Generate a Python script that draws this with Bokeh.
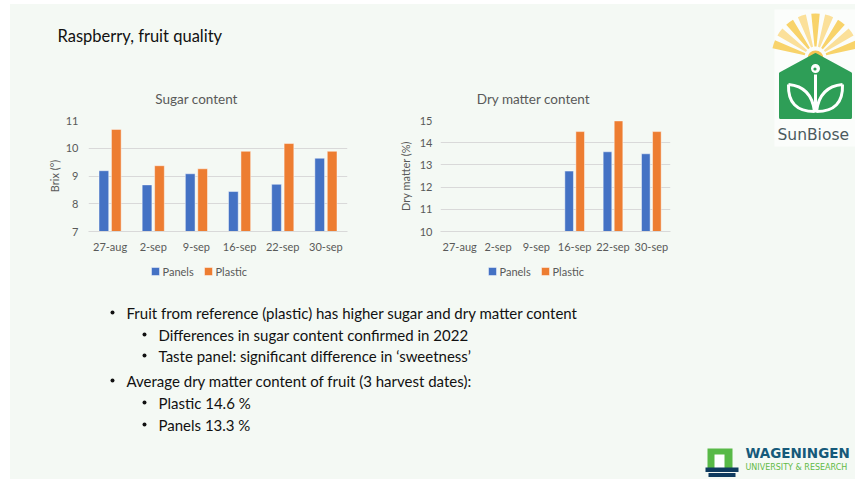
import numpy as np
from bokeh.plotting import figure
from bokeh.layouts import row, column
from bokeh.models import Range1d, FactorRange, FixedTicker, ColumnDataSource, Spacer
from bokeh.transform import dodge
from bokeh.core.properties import value
from bokeh.embed import file_html
from bokeh.resources import INLINE

# ---------------- data ----------------
dates = ["27-aug", "2-sep", "9-sep", "16-sep", "22-sep", "30-sep"]
series = ["Panels", "Plastic"]
sugar_panels = [9.19, 8.68, 9.08, 8.44, 8.70, 9.64]
sugar_plastic = [10.68, 9.37, 9.26, 9.89, 10.17, 9.89]
dry_panels = [np.nan, np.nan, np.nan, 12.72, 13.59, 13.50]
dry_plastic = [np.nan, np.nan, np.nan, 14.50, 14.98, 14.50]
sugar_ticks = [7, 8, 9, 10, 11]
dry_ticks = [10, 11, 12, 13, 14, 15]

slide_title = "Raspberry, fruit quality"
bullets = [
    (0, "Fruit from reference (plastic) has higher sugar and dry matter content"),
    (1, "Differences in sugar content confirmed in 2022"),
    (1, "Taste panel: significant difference in \u2018sweetness\u2019"),
    (0, "Average dry matter content of fruit (3 harvest dates):"),
    (1, "Plastic 14.6 %"),
    (1, "Panels 13.3 %"),
]

# ---------------- style ----------------
SLIDE = "#F4F9F4"
BLUE = "#4472C4"
ORANGE = "#ED7D31"
GRID = "#D9D9D9"
TXT = "#595959"
FONT = "Lato"
BAR_W = 0.225
BAR_OFF = 0.144


def tile(w, h, bl=0, br=0):
    # frame spans [bl, w-br]; x data units equal local pixels
    p = figure(width=w, height=h, x_range=Range1d(bl, w - br), y_range=Range1d(0, h),
               output_backend="svg", toolbar_location=None,
               x_axis_type=None, y_axis_type=None, min_border=0,
               min_border_left=bl, min_border_right=br,
               background_fill_color=SLIDE, border_fill_color=SLIDE,
               outline_line_color=None)
    return p


def bar_chart(title, ylab, pan, pla, ticks, w, ox, bl, br, title_cx, leg_x,
              lab_standoff, tick_standoff):
    # title tile: page y 83..115
    tt = tile(w, 32, bl, br)
    tt.text(x=[title_cx - ox], y=[32 - (98 - 83)], text=[title],
            text_align="center", text_baseline="middle",
            text_font=value(FONT), text_font_size="13.5px", text_color=TXT)

    # chart: page y 115..257, frame 120..231
    src = ColumnDataSource(dict(date=dates,
                                Panels=np.array(pan, dtype=float),
                                Plastic=np.array(pla, dtype=float)))
    p = figure(x_range=FactorRange(factors=dates),
               y_range=Range1d(ticks[0], ticks[-1]),
               width=w, height=142, output_backend="svg", toolbar_location=None,
               min_border_left=bl, min_border_right=br,
               min_border_top=5, min_border_bottom=26,
               background_fill_color=SLIDE, border_fill_color=SLIDE,
               outline_line_color=None)
    p.vbar(x=dodge("date", -BAR_OFF, range=p.x_range), top=series[0], width=BAR_W,
           source=src, fill_color=BLUE, line_color="white", line_alpha=0.45)
    p.vbar(x=dodge("date", BAR_OFF, range=p.x_range), top=series[1], width=BAR_W,
           source=src, fill_color=ORANGE, line_color="white", line_alpha=0.45)

    t = FixedTicker(ticks=ticks)
    p.yaxis.ticker = t
    p.ygrid.ticker = t
    p.xgrid.visible = False
    p.ygrid.grid_line_color = GRID

    for ax in (p.xaxis[0], p.yaxis[0]):
        ax.major_tick_line_color = None
        ax.minor_tick_line_color = None
        ax.major_tick_out = 0
        ax.major_tick_in = 0
        ax.major_label_text_font = FONT
        ax.major_label_text_font_size = "11px"
        ax.major_label_text_color = TXT
    p.xaxis.axis_line_color = GRID
    p.xaxis.major_label_standoff = 8
    p.yaxis.axis_line_color = None
    p.yaxis.major_label_standoff = tick_standoff
    p.yaxis.axis_label = ylab
    p.yaxis.axis_label_text_font = FONT
    p.yaxis.axis_label_text_font_size = "11px"
    p.yaxis.axis_label_text_font_style = "normal"
    p.yaxis.axis_label_text_color = TXT
    p.yaxis.axis_label_standoff = lab_standoff

    # legend tile: page y 257..285, legend centred at y 271
    lt = tile(w, 28, bl, br)
    cy = 28 - (271 - 257)
    lx0 = leg_x - ox
    sw_left = [lx0, lx0 + 53]
    lt.quad(left=sw_left, right=[v + 8 for v in sw_left],
            top=[cy + 4, cy + 4], bottom=[cy - 4, cy - 4],
            fill_color=[BLUE, ORANGE], line_color="white", line_alpha=0.45)
    lt.text(x=[v + 11 for v in sw_left], y=[cy, cy], text=series,
            text_baseline="middle", text_font=value(FONT),
            text_font_size="11px", text_color=TXT)
    return column(tt, p, lt)


# chart tiles: page x 10..370 and 370..720, y 83..285
c1 = bar_chart("Sugar content", "Brix (\u00b0)", sugar_panels, sugar_plastic,
               sugar_ticks, 360, 10, 78, 23, 196, 151, 2, 10)
c2 = bar_chart("Dry matter content", "Dry matter (%)", dry_panels, dry_plastic,
               dry_ticks, 350, 370, 70, 50, 533, 488, 5, 8)

# ---------------- header: page x 10..720, y 4..83 ----------------
HW, HH, HOX, HOY = 710, 79, 10, 4
header = tile(HW, HH)
header.text(x=[57 - HOX], y=[HH - (35 - HOY)], text=[slide_title],
            text_font=value(FONT), text_font_size="16.5px",
            text_baseline="alphabetic", text_color="#111111")

# ---------------- SunBiose logo tile: page x 720..855, y 4..285 ----------------
LW, LH, LOX, LOY = 135, 281, 720, 4
logo = tile(LW, LH)
LX = lambda x: x - LOX
LY = lambda y: LH - (y - LOY)
logo.quad(left=[LX(774)], right=[LX(855)], top=[LY(9)], bottom=[LY(146)],
          fill_color="#FBFDFB", line_color=None)
n_rays = 9
starts = np.linspace(np.radians(12), np.radians(157), n_rays)
ray_cols = ["#F8D36A" if i % 2 == 0 else "#FBE09A" for i in range(n_rays)]
logo.annular_wedge(x=LX(815), y=LY(57), inner_radius=11, outer_radius=44,
                   start_angle=starts, end_angle=starts + np.radians(11),
                   fill_color=ray_cols, line_color=None)
logo.wedge(x=LX(815), y=LY(58), radius=8, start_angle=0, end_angle=np.pi,
           fill_color="#F6C453", line_color=None)
hx = [780, 780, 815, 850, 850]
hy = [117, 73, 54, 73, 117]
logo.patch(x=[LX(v) for v in hx], y=[LY(v) for v in hy], fill_color="#2E9E57",
           line_color="#2E9E57", line_width=3, line_join="round")
logo.circle(x=[LX(815)], y=[LY(68)], radius=4.5, fill_color="white", line_color=None)
logo.circle(x=[LX(814.5)], y=[LY(68.5)], radius=1.6, fill_color="#2E9E57", line_color=None)
logo.segment(x0=[LX(815)], y0=[LY(74)], x1=[LX(815)], y1=[LY(112)],
             line_color="white", line_width=3)
leaf = dict(line_color="white", line_width=3)
logo.quadratic(x0=[LX(814), LX(788)], y0=[LY(111), LY(84)],
               x1=[LX(788), LX(814)], y1=[LY(84), LY(111)],
               cx=[LX(787), LX(811)], cy=[LY(111), LY(86)], **leaf)
logo.quadratic(x0=[LX(816), LX(842)], y0=[LY(111), LY(84)],
               x1=[LX(842), LX(816)], y1=[LY(84), LY(111)],
               cx=[LX(843), LX(819)], cy=[LY(111), LY(86)], **leaf)
logo.text(x=[LX(777)], y=[LY(134)], text=["SunBiose"], text_font=value("DejaVu Sans"),
          text_font_size="15.5px", text_baseline="middle", text_color="#4B5A5E")

# ---------------- bottom tile: page x 10..855, y 285..479 ----------------
BW, BH, BOX, BOY = 845, 194, 10, 285
bottom = tile(BW, BH)
BX = lambda x: x - BOX
BY = lambda y: BH - (y - BOY)
line_y = [312, 334, 355, 380, 402, 424]
dot_x = {0: 112, 1: 144}
text_x = {0: 126, 1: 158}
bottom.scatter(x=[BX(dot_x[l]) for l, _ in bullets], y=[BY(v) for v in line_y],
               size=4, marker="circle", fill_color="#111111", line_color=None)
bottom.text(x=[BX(text_x[l]) for l, _ in bullets], y=[BY(v) for v in line_y],
            text=[s for _, s in bullets], text_font=value(FONT), text_font_size="15px",
            text_baseline="middle", text_color="#111111")

bottom.quad(left=[BX(707)], right=[BX(732)], top=[BY(448)], bottom=[BY(468)],
            fill_color="#58B947", line_color=None)
bottom.quad(left=[BX(714)], right=[BX(724)], top=[BY(454)], bottom=[BY(468)],
            fill_color="white", line_color=None)
bottom.quad(left=[BX(705), BX(708)], right=[BX(738), BX(735)],
            top=[BY(467), BY(472.5)], bottom=[BY(471.5), BY(476.5)],
            fill_color="#0F3B5F", line_color=None)
bottom.text(x=[BX(745)], y=[BY(452)], text=["WAGENINGEN"], text_font=value("DejaVu Sans"),
            text_font_size="13.5px", text_font_style="bold", text_baseline="middle",
            text_color="#165A7A")
bottom.text(x=[BX(745)], y=[BY(467)], text=["UNIVERSITY & RESEARCH"],
            text_font=value("DejaVu Sans"), text_font_size="8px",
            text_baseline="middle", text_color="#62B946")

slide = column(row(column(header, row(c1, c2)), logo), bottom,
               styles={"background-color": SLIDE})
page = column(Spacer(width=855, height=4),
              row(Spacer(width=10, height=475), slide))
open("out.html", "w").write(file_html(page, INLINE))
